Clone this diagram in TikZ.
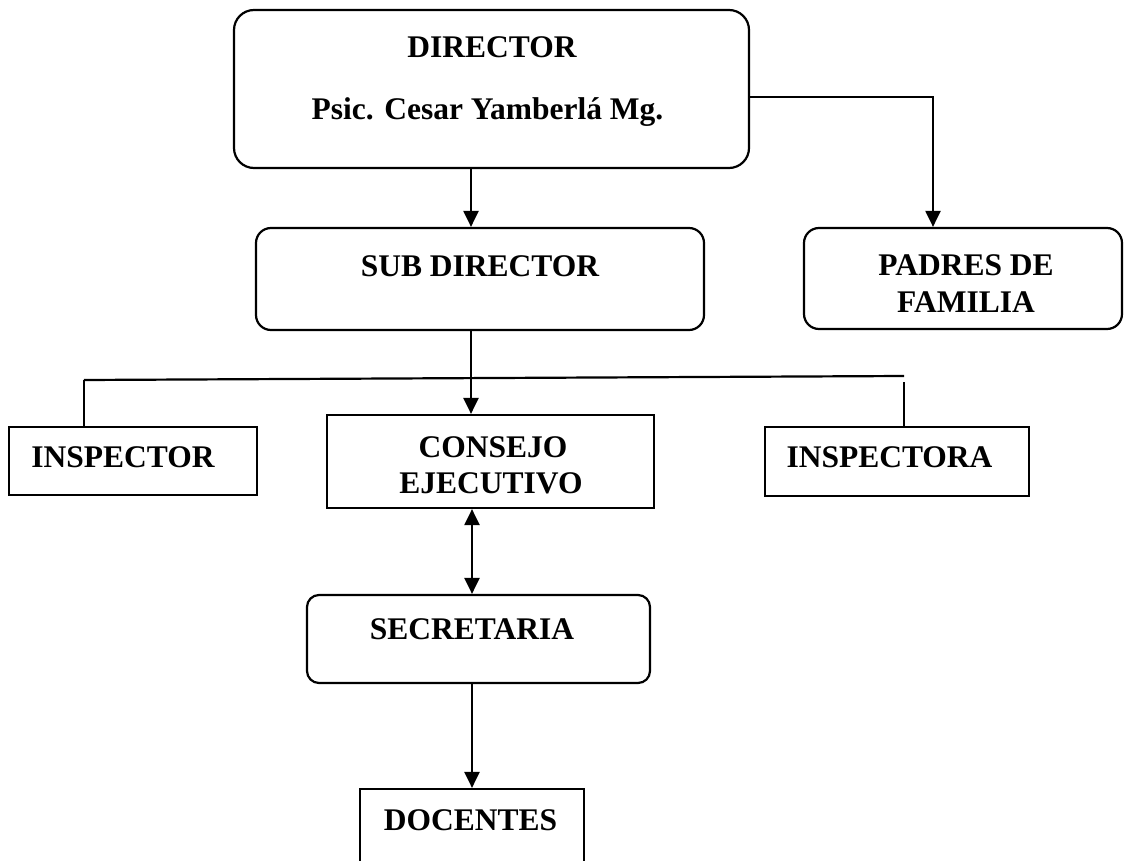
\documentclass[tikz,border=0pt]{standalone}
\usepackage{fontspec}
\setmainfont{Liberation Serif}
\usetikzlibrary{arrows.meta}
\begin{document}
\begin{tikzpicture}[x=1pt,y=-1pt,
  box/.style={draw, line width=2.2pt, inner sep=0pt},
  rbox/.style={box, rounded corners=#1},
  lbl/.style={font=\fontsize{31.5}{36}\selectfont\bfseries, inner sep=0pt, anchor=base},
  conn/.style={line width=2.2pt},
  tip/.style={},
  arr/.style={conn, -{Triangle[length=16pt,width=15pt]}},
  darr/.style={conn, {Triangle[length=16pt,width=15pt]}-{Triangle[length=16pt,width=15pt]}}
]
\clip (0,0) rectangle (1124,861);
% boxes
\node[rbox=20pt, minimum width=515pt, minimum height=158pt] (dir) at (491.5,89) {};
\node[rbox=15pt, minimum width=448pt, minimum height=102pt] (sub) at (480,279) {};
\node[rbox=15pt, minimum width=318pt, minimum height=101pt] (pad) at (963,278.5) {};
\node[box, minimum width=248pt, minimum height=68pt] (insp) at (133,461) {};
\node[box, minimum width=327pt, minimum height=93pt] (cons) at (490.5,461.5) {};
\node[box, minimum width=264pt, minimum height=69pt] (inspa) at (897,461.5) {};
\node[rbox=12pt, minimum width=343pt, minimum height=88pt] (sec) at (478.5,639) {};
\node[box, minimum width=224pt, minimum height=82pt] (doc) at (472,830) {};
% texts
\node[lbl] (dirA) at (492,58) {DIRECTOR};
\node[lbl] (dirB) at (487.5,120) {Psic. Cesar Yamberlá Mg.};
\node[lbl] (subA) at (480,276) {SUB DIRECTOR};
\node[lbl] (padA) at (966,275) {PADRES DE};
\node[lbl] (padB) at (966,312) {FAMILIA};
\node[lbl] (inspA) at (123,467) {INSPECTOR};
\node[lbl] (consA) at (493,457) {CONSEJO};
\node[lbl] (consB) at (491,493) {EJECUTIVO};
\node[lbl] (inspaA) at (889.5,467) {INSPECTORA};
\node[lbl] (secA) at (472,639) {SECRETARIA};
\node[lbl] (docA) at (470.5,830) {DOCENTES};
% connectors
\coordinate (ax) at (471,0);
\coordinate (bx) at (472,0);
\draw[arr] (ax |- dir.south) -- (ax |- sub.north);
\draw[arr] (ax |- sub.south) -- (ax |- cons.north);
\draw[darr] (bx |- cons.south) -- (bx |- sec.north);
\draw[arr] (bx |- sec.south) -- (bx |- doc.north);
\coordinate (pd) at (933,97);
\draw[arr] (pd -| dir.east) -- (pd) -- (pd |- pad.north);
\coordinate (bL) at (84,380);
\coordinate (bR) at (904,376);
\coordinate (bR2) at (904,382);
\draw[conn] (bL) -- (bR);
\draw[conn] (bL) -- (bL |- insp.north);
\draw[conn] (bR2) -- (bR2 |- inspa.north);
\end{tikzpicture}
\end{document}
